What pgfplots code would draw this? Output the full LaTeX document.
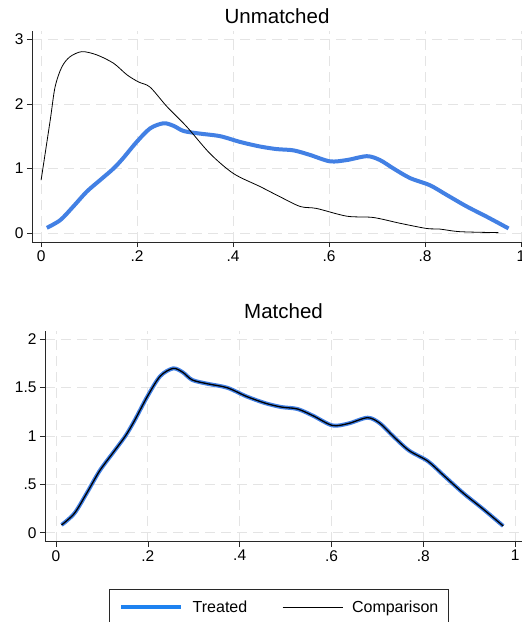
\documentclass[border=0pt]{standalone}
\usepackage{fontspec}
\setmainfont{Liberation Sans}
\usepackage{pgfplots}
\pgfplotsset{compat=1.18}

\definecolor{treatblue}{RGB}{66,128,228}
\definecolor{legblue}{RGB}{30,130,240}
\definecolor{gridgray}{RGB}{228,228,228}
\definecolor{axisgray}{RGB}{40,40,40}

\pgfplotstableread{
x y
0.012 0.08
0.040 0.20
0.067 0.41
0.095 0.64
0.123 0.82
0.151 1.00
0.171 1.16
0.199 1.41
0.227 1.62
0.255 1.70
0.276 1.66
0.297 1.58
0.331 1.54
0.373 1.50
0.415 1.41
0.456 1.34
0.491 1.30
0.526 1.28
0.560 1.21
0.602 1.11
0.637 1.13
0.679 1.19
0.706 1.13
0.734 1.00
0.769 0.85
0.810 0.74
0.845 0.59
0.887 0.41
0.929 0.25
0.974 0.07
}\treated

\pgfplotstableread{
x y
0.000 0.82
0.019 1.75
0.029 2.26
0.043 2.57
0.060 2.73
0.085 2.81
0.116 2.76
0.151 2.63
0.179 2.45
0.203 2.34
0.227 2.26
0.262 1.96
0.303 1.65
0.352 1.23
0.401 0.92
0.456 0.72
0.498 0.56
0.540 0.41
0.574 0.38
0.637 0.26
0.692 0.24
0.748 0.15
0.803 0.07
0.831 0.06
0.873 0.02
0.953 0.005
}\comparison

\pgfplotsset{
  kdens/.style={
    scale only axis,
    axis x line*=bottom,
    axis y line*=left,
    axis line style={-, axisgray, line width=0.6pt},
    tick align=outside,
    major tick length=5pt,
    tick style={axisgray, line width=0.6pt},
    grid=major,
    major grid style={gridgray, dash pattern=on 10pt off 6pt, line width=0.8pt},
    tick label style={font=\fontsize{15.5}{17}\selectfont},
    xtick={0,0.2,0.4,0.6,0.8,1},
    xticklabels={0,.2,.4,.6,.8,1},
    title style={font=\fontsize{20.5}{22}\selectfont, at={(0.5,1)}, anchor=center},
    smooth,
  }
}

\begin{document}
\begin{tikzpicture}

\begin{axis}[
  kdens,
  at={(32pt,-242pt)}, anchor=south west,
  width=490pt, height=211pt,
  xmin=-0.019, xmax=1.002,
  ymin=-0.14, ymax=3.13,
  ytick={0,1,2,3},
  yticklabels={0,1,2,3},
  title={Unmatched},
  title style={yshift=9pt},
]
\addplot[treatblue, line width=4pt] table {\treated};
\addplot[black, line width=0.8pt] table {\comparison};
\end{axis}

\begin{axis}[
  kdens,
  at={(45pt,-541.7pt)}, anchor=south west,
  width=477pt, height=211pt,
  xmin=-0.024, xmax=1.015,
  ymin=-0.093, ymax=2.09,
  ytick={0,0.5,1,1.5,2},
  yticklabels={0,.5,1,1.5,2},
  title={Matched},
  title style={yshift=14pt},
  legend columns=2,
  legend style={at={(0.134,-0.2256)}, anchor=north west,
    draw=axisgray, line width=0.6pt,
    font=\fontsize{16}{18}\selectfont,
    nodes={inner sep=0pt},
    inner xsep=10pt, inner ysep=11pt,
    /tikz/every odd column/.append style={column sep=9pt},
    /tikz/every even column/.append style={column sep=35pt}},
  legend image code/.code={\draw[#1] (0pt,0pt) -- (60pt,0pt);},
]
\addplot[treatblue, line width=4pt, forget plot] table {\treated};
\addplot[black, line width=1.3pt, forget plot] table {\treated};
\addlegendimage{legblue, line width=4.5pt}
\addlegendentry{Treated}
\addlegendimage{black, line width=0.8pt}
\addlegendentry{Comparison}
\end{axis}

\pgfresetboundingbox
\useasboundingbox (0pt,0pt) rectangle (522pt,-622pt);
\end{tikzpicture}
\end{document}
